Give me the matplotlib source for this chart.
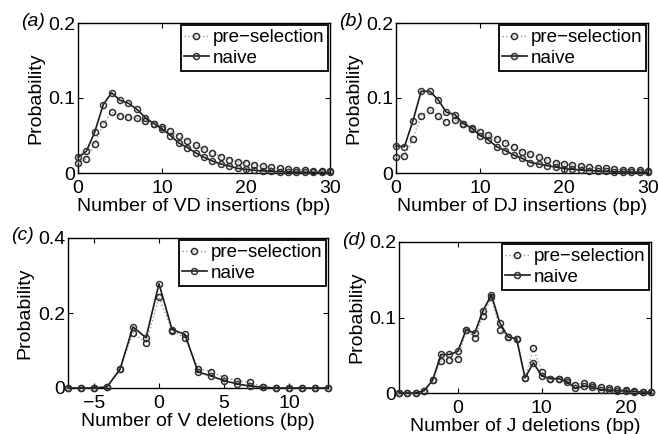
import matplotlib
matplotlib.use("Agg")
import matplotlib.pyplot as plt
import numpy as np

plt.rcParams['font.family'] = ['Liberation Sans', 'DejaVu Sans']
plt.rcParams['axes.unicode_minus'] = True

# ---------------- data ----------------
vd_x = list(range(0, 31))
vd_pre = [0.014, 0.019, 0.039, 0.065, 0.081, 0.076, 0.075, 0.073, 0.069, 0.066,
          0.061, 0.056, 0.049, 0.043, 0.037, 0.032, 0.027, 0.022, 0.018, 0.015,
          0.013, 0.011, 0.0093, 0.0076, 0.0067, 0.0053, 0.0044, 0.004, 0.003, 0.0027, 0.0022]
vd_naive = [0.021, 0.029, 0.055, 0.091, 0.107, 0.097, 0.093, 0.085, 0.074, 0.066,
            0.059, 0.050, 0.040, 0.034, 0.027, 0.021, 0.016, 0.012, 0.0093, 0.0062,
            0.0049, 0.0036, 0.0027, 0.0022, 0.0018, 0.0015, 0.0013, 0.0011, 0.001, 0.0008, 0.0007]

dj_x = list(range(0, 31))
dj_pre = [0.021, 0.023, 0.046, 0.076, 0.084, 0.076, 0.068, 0.071, 0.065, 0.059,
          0.055, 0.051, 0.045, 0.040, 0.035, 0.028, 0.025, 0.021, 0.017, 0.014,
          0.0124, 0.0107, 0.0093, 0.008, 0.007, 0.0062, 0.0053, 0.0044, 0.004, 0.0036, 0.003]
dj_naive = [0.036, 0.035, 0.069, 0.109, 0.109, 0.098, 0.081, 0.078, 0.066, 0.060,
            0.050, 0.044, 0.035, 0.030, 0.024, 0.0196, 0.014, 0.012, 0.0098, 0.008,
            0.0058, 0.0049, 0.004, 0.0033, 0.0027, 0.0022, 0.0018, 0.0015, 0.0013, 0.0011, 0.001]

vdel_x = list(range(-7, 14))
vdel_pre = [0.0, 0.0, 0.0, 0.003, 0.05, 0.148, 0.119, 0.242, 0.153, 0.134,
            0.052, 0.044, 0.028, 0.0196, 0.015, 0.002, 0.0, 0.0, 0.0, 0.0, 0.0]
vdel_naive = [0.0, 0.0, 0.0, 0.003, 0.05, 0.163, 0.134, 0.278, 0.156, 0.143,
              0.043, 0.032, 0.0196, 0.011, 0.005, 0.002, 0.0, 0.0, 0.0, 0.0, 0.0]

jdel_x = list(range(-7, 24))
jdel_pre = [0.0, 0.0, 0.0, 0.003, 0.017, 0.043, 0.044, 0.045, 0.084, 0.073,
            0.102, 0.127, 0.084, 0.074, 0.072, 0.020, 0.059, 0.028, 0.019, 0.019,
            0.017, 0.0106, 0.0137, 0.0106, 0.0084, 0.006, 0.005, 0.004, 0.0026, 0.0015, 0.001]
jdel_naive = [0.0, 0.0, 0.0, 0.003, 0.017, 0.051, 0.051, 0.055, 0.084, 0.079,
              0.109, 0.130, 0.093, 0.074, 0.072, 0.020, 0.040, 0.0225, 0.019, 0.019,
              0.015, 0.006, 0.009, 0.0084, 0.004, 0.004, 0.003, 0.0026, 0.0018, 0.0013, 0.001]

panels = [
    dict(x=vd_x, pre=vd_pre, naive=vd_naive, label="(a)",
         xlabel="Number of VD insertions (bp)", xlim=(0, 30), xticks=[0, 10, 20, 30],
         ylim=(0, 0.2), yticks=[0, 0.1, 0.2], yticklabels=["0", "0.1", "0.2"],
         rect=[78, 23, 330, 173]),
    dict(x=dj_x, pre=dj_pre, naive=dj_naive, label="(b)",
         xlabel="Number of DJ insertions (bp)", xlim=(0, 30), xticks=[0, 10, 20, 30],
         ylim=(0, 0.2), yticks=[0, 0.1, 0.2], yticklabels=["0", "0.1", "0.2"],
         rect=[396, 23, 648, 173]),
    dict(x=vdel_x, pre=vdel_pre, naive=vdel_naive, label="(c)",
         xlabel="Number of V deletions (bp)", xlim=(-7, 13), xticks=[-5, 0, 5, 10],
         ylim=(0, 0.4), yticks=[0, 0.2, 0.4], yticklabels=["0", "0.2", "0.4"],
         rect=[68, 238, 328, 388]),
    dict(x=jdel_x, pre=jdel_pre, naive=jdel_naive, label="(d)",
         xlabel="Number of J deletions (bp)", xlim=(-7, 23), xticks=[0, 10, 20],
         ylim=(0, 0.2), yticks=[0, 0.1, 0.2], yticklabels=["0", "0.1", "0.2"],
         rect=[399, 242, 651, 393]),
]

W, H = 658, 434
fig = plt.figure(figsize=(W / 100, H / 100), dpi=100)

for p in panels:
    l, t, r, b = p["rect"]
    ax = fig.add_axes([l / W, 1 - b / H, (r - l) / W, (b - t) / H])
    ax.plot(p["x"], p["pre"], linestyle=':', color='#9a9a9a', lw=1.0,
            marker='o', markersize=4.3, markerfacecolor='none',
            markeredgecolor='#2a2a2a', markeredgewidth=1.1, label="pre\u2212selection",
            clip_on=False, zorder=3)
    ax.plot(p["x"], p["naive"], linestyle='-', color='#1a1a1a', lw=1.2,
            marker='o', markersize=4.3, markerfacecolor='none',
            markeredgecolor='#333333', markeredgewidth=1.1, label="naive",
            clip_on=False, zorder=4)
    ax.set_xlim(*p["xlim"])
    ax.set_ylim(*p["ylim"])
    ax.set_xticks(p["xticks"])
    ax.set_yticks(p["yticks"])
    ax.set_yticklabels(p["yticklabels"])
    ax.tick_params(direction='in', top=True, right=True, length=3.5, width=0.8,
                   labelsize=14)
    ax.tick_params(axis='x', pad=5)
    ax.tick_params(axis='y', pad=2)
    for s in ax.spines.values():
        s.set_linewidth(1.0)
    ax.set_xlabel(p["xlabel"], fontsize=14, labelpad=0.5)
    ax.set_ylabel("Probability", fontsize=14, labelpad=3)
    leg = ax.legend(loc='upper right', fontsize=13.5, frameon=True, fancybox=False,
                    edgecolor='black', framealpha=1, borderpad=0.2,
                    handlelength=1.3, handletextpad=0.2, labelspacing=0.2,
                    borderaxespad=0.12)
    leg.get_frame().set_linewidth(1.3)
    fig.text((l - 57) / W, 1 - (t - 2) / H, p["label"], fontsize=14, style='italic',
             ha='left', va='center')

fig.savefig("out.png", dpi=100)
